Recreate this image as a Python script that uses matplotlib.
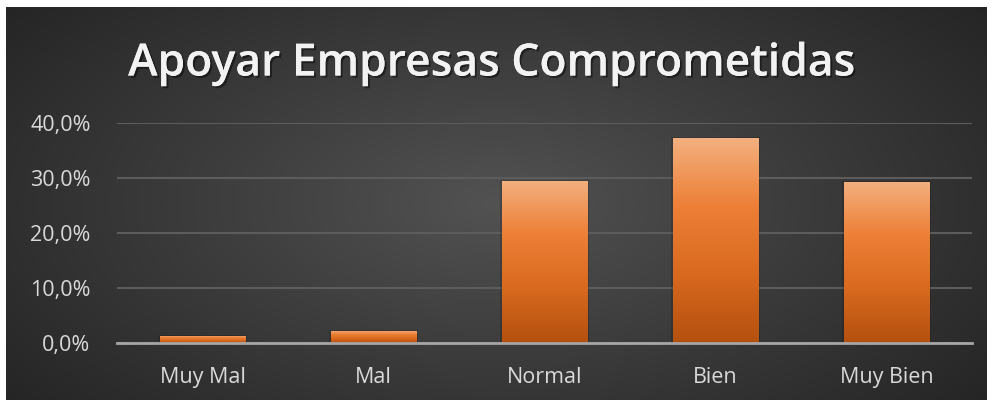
'''
Apoyar Empresas Comprometidas - bar chart with dark gradient background
'''

import numpy as np
import matplotlib
matplotlib.use("Agg")
import matplotlib.pyplot as plt
from matplotlib.colors import LinearSegmentedColormap
from matplotlib.ticker import FuncFormatter
import matplotlib.patheffects as pe

categories = ["Muy Mal", "Mal", "Normal", "Bien", "Muy Bien"]
values = [0.013, 0.022, 0.295, 0.372, 0.293]
yticks = [0.0, 0.1, 0.2, 0.3, 0.4]
title = "Apoyar Empresas Comprometidas"

plt.rcParams['font.family'] = ['Open Sans', 'DejaVu Sans']

fig = plt.figure(figsize=(9.92, 4.05), dpi=100, facecolor='white')

# background panel with radial gradient
bg = fig.add_axes([6/992, 5/405, 980/992, 393/405], zorder=0)
nx, ny = 400, 160
xx, yy = np.meshgrid(np.linspace(-1, 1, nx), np.linspace(-1, 1, ny))
r = np.sqrt(xx**2 + (yy*0.8)**2)
bg_cmap = LinearSegmentedColormap.from_list("bg", ["#525252", "#3a3a3a", "#232323"])
bg.imshow(r, cmap=bg_cmap, vmin=0, vmax=1.35, aspect='auto', extent=[0, 1, 0, 1])
bg.set_axis_off()

ax = fig.add_axes([117/992, 1 - 343/405, 855/992, 220/405], zorder=1)
ax.patch.set_alpha(0)

x = np.arange(len(categories))
bars = ax.bar(x, values, width=0.5, color='none', zorder=3)

bar_cmap = LinearSegmentedColormap.from_list("bar", ["#b4500f", "#d8691f", "#ed7f36", "#f3b07f"])
grad = np.linspace(0, 1, 256).reshape(-1, 1)
for b in bars:
    x0, y0 = b.get_x(), b.get_y()
    w, h = b.get_width(), b.get_height()
    # soft shadow
    ax.add_patch(plt.Rectangle((x0 - 0.01, y0), w + 0.02, h + 0.002,
                               color='black', alpha=0.15, lw=0, zorder=2))
    im = ax.imshow(grad, cmap=bar_cmap, origin='lower', aspect='auto',
                   extent=[x0, x0 + w, y0, y0 + h], zorder=3)
    im.set_clip_path(b)

ax.set_xlim(-0.5, len(categories) - 0.5)
ax.set_ylim(0, 0.4)
ax.set_yticks(yticks)
ax.yaxis.set_major_formatter(FuncFormatter(lambda v, p: "{:.1f}%".format(v*100).replace(".", ",")))
ax.set_xticks(x)
ax.set_xticklabels(categories)

ax.grid(axis='y', color='#5c5c5c', lw=1.5, zorder=1)
ax.set_axisbelow(True)
for s in ['top', 'right', 'left']:
    ax.spines[s].set_visible(False)
ax.spines['bottom'].set_color('#a6a6a6')
ax.spines['bottom'].set_linewidth(2)
ax.spines['bottom'].set_zorder(4)
ax.tick_params(axis='both', length=0, labelsize=15.5, colors='#d9d9d9')
ax.tick_params(axis='y', pad=19)
ax.tick_params(axis='x', pad=17)

fig.text(0.496, 0.842, title, ha='center', va='center', color='#f2f2f2',
         fontsize=32, fontweight='semibold',
         path_effects=[pe.withSimplePatchShadow(offset=(1.5, -1.5), shadow_rgbFace='black', alpha=0.45),
                       pe.Normal()])

fig.savefig("out.png", dpi=100, facecolor='white')
